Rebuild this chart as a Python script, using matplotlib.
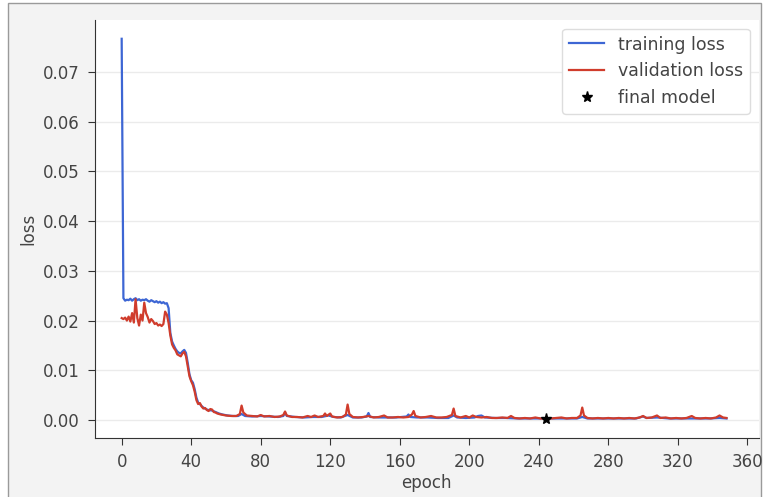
#!/usr/bin/env python3
"""Training / validation loss curves with the selected final model."""
import matplotlib
matplotlib.use("Agg")
import matplotlib.pyplot as plt
from matplotlib.patches import Rectangle

# ============================================================
# DATA
# ============================================================
train_epoch = [0, 1, 2, 3, 4, 5, 6, 7, 8, 9, 10, 11, 12, 13, 14, 15, 16, 17, 18, 19,
               20, 21, 22, 23, 24, 25, 26, 27, 28, 29, 30, 31, 32, 33, 34, 35, 36, 37,
               38, 39, 40, 41, 42, 43, 44, 45, 46, 47, 48, 49, 50, 52, 54, 56, 58, 61,
               64, 67, 69, 71, 75, 80, 85, 90, 93, 94, 95, 100, 105, 110, 115, 119, 122,
               126, 130, 133, 138, 141, 142, 143, 148, 153, 158, 164, 165, 166, 170, 176,
               182, 188, 191, 193, 198, 203, 205, 207, 209, 215, 221, 228, 235, 242, 248,
               255, 262, 265, 268, 275, 282, 290, 296, 300, 302, 308, 315, 322, 330, 338,
               344, 348]
train_loss = [0.0767, 0.0245, 0.0240, 0.0242, 0.0241, 0.0244, 0.0240, 0.0243, 0.0245, 0.0241,
              0.0243, 0.0240, 0.0242, 0.0241, 0.0243, 0.0240, 0.0238, 0.0241, 0.0239, 0.0237,
              0.0239, 0.0236, 0.0238, 0.0235, 0.0237, 0.0234, 0.0235, 0.0225, 0.0175, 0.0158,
              0.0150, 0.0143, 0.0138, 0.0135, 0.0134, 0.0138, 0.0141, 0.0135, 0.0115, 0.0092,
              0.0080, 0.0075, 0.0062, 0.0045, 0.0035, 0.0032, 0.0028, 0.0025, 0.0023, 0.0021,
              0.0020, 0.0019, 0.0016, 0.0013, 0.0011, 0.0009, 0.0008, 0.0008, 0.0012, 0.0008,
              0.0007, 0.0008, 0.0007, 0.0006, 0.0008, 0.0015, 0.0008, 0.0006, 0.0005, 0.0006,
              0.0006, 0.0009, 0.0006, 0.0005, 0.0010, 0.0005, 0.0005, 0.0007, 0.0014, 0.0006,
              0.0005, 0.0005, 0.0005, 0.0007, 0.0011, 0.0006, 0.0005, 0.0005, 0.0004, 0.0004,
              0.0009, 0.0005, 0.0004, 0.0005, 0.0008, 0.0009, 0.0005, 0.0004, 0.0004, 0.0003,
              0.0003, 0.0003, 0.0003, 0.0003, 0.0003, 0.0006, 0.0003, 0.0003, 0.0003, 0.0003,
              0.0003, 0.0007, 0.0004, 0.0005, 0.0003, 0.0003, 0.0003, 0.0003, 0.0004, 0.0003]

val_epoch = [0, 1, 2, 3, 4, 5, 6, 7, 8, 9, 10, 11, 12, 13, 14, 15, 16, 17, 18, 19,
             20, 21, 22, 23, 24, 25, 26, 27, 28, 29, 30, 31, 32, 33, 34, 35, 36, 37,
             38, 39, 40, 41, 42, 43, 44, 45, 46, 47, 48, 49, 50, 51, 52, 53, 54, 55,
             57, 60, 63, 66, 68, 69, 70, 72, 75, 78, 80, 82, 85, 88, 91, 93, 94, 95,
             98, 101, 104, 107, 109, 111, 113, 116, 117, 118, 120, 121, 124, 127, 129,
             130, 131, 133, 136, 139, 142, 145, 148, 151, 153, 156, 159, 162, 165, 167,
             168, 169, 172, 175, 178, 181, 184, 187, 190, 191, 192, 195, 198, 200, 202,
             204, 207, 210, 213, 216, 219, 222, 224, 226, 229, 232, 235, 238, 241, 244,
             247, 250, 253, 256, 259, 262, 264, 265, 266, 268, 271, 274, 277, 280, 283,
             286, 289, 292, 295, 298, 300, 302, 305, 308, 310, 313, 316, 319, 322, 325,
             328, 330, 333, 336, 339, 342, 344, 346, 348]
val_loss = [0.0205, 0.0203, 0.0206, 0.0200, 0.0208, 0.0198, 0.0215, 0.0196, 0.0243, 0.0205,
            0.0190, 0.0212, 0.0200, 0.0236, 0.0215, 0.0207, 0.0196, 0.0203, 0.0199, 0.0193,
            0.0195, 0.0190, 0.0192, 0.0189, 0.0193, 0.0218, 0.0212, 0.0195, 0.0170, 0.0152,
            0.0145, 0.0140, 0.0132, 0.0130, 0.0128, 0.0134, 0.0137, 0.0128, 0.0108, 0.0088,
            0.0078, 0.0070, 0.0057, 0.0040, 0.0032, 0.0034, 0.0027, 0.0023, 0.0024, 0.0020,
            0.0018, 0.0022, 0.0021, 0.0016, 0.0015, 0.0013,
            0.0011, 0.0009, 0.0008, 0.0008, 0.0012, 0.0029, 0.0015, 0.0009, 0.0008, 0.0007,
            0.0010, 0.0007, 0.0008, 0.0006, 0.0007, 0.0010, 0.0017, 0.0009, 0.0006, 0.0006,
            0.0005, 0.0008, 0.0006, 0.0009, 0.0006, 0.0008, 0.0013, 0.0008, 0.0013, 0.0007,
            0.0005, 0.0006, 0.0011, 0.0031, 0.0012, 0.0006, 0.0005, 0.0006, 0.0008, 0.0005,
            0.0006, 0.0009, 0.0005, 0.0005, 0.0006, 0.0005, 0.0006, 0.0011, 0.0018, 0.0008,
            0.0005, 0.0006, 0.0008, 0.0005, 0.0005, 0.0006, 0.0010, 0.0023, 0.0008, 0.0005,
            0.0008, 0.0005, 0.0009, 0.0006, 0.0005, 0.0006, 0.0004, 0.0004, 0.0005, 0.0004,
            0.0008, 0.0004, 0.0003, 0.0004, 0.0003, 0.0005, 0.0003, 0.0002, 0.0003, 0.0004,
            0.0005, 0.0003, 0.0004, 0.0004, 0.0009, 0.0025, 0.0009, 0.0004, 0.0003, 0.0004,
            0.0003, 0.0004, 0.0003, 0.0004, 0.0003, 0.0004, 0.0003, 0.0005, 0.0008, 0.0004,
            0.0005, 0.0009, 0.0004, 0.0005, 0.0003, 0.0004, 0.0003, 0.0004, 0.0008, 0.0004,
            0.0003, 0.0004, 0.0003, 0.0005, 0.0009, 0.0005, 0.0004]

final_epoch = [244]
final_loss = [0.0001]

x_ticks = [0, 40, 80, 120, 160, 200, 240, 280, 320, 360]
y_ticks = [0.00, 0.01, 0.02, 0.03, 0.04, 0.05, 0.06, 0.07]

# ============================================================
# STYLE
# ============================================================
TXT = "#444444"
BLUE = "#3d66d4"
RED = "#d03c2c"
plt.rcParams["font.family"] = "DejaVu Sans"
plt.rcParams["font.size"] = 12

fig = plt.figure(figsize=(7.64, 4.97), dpi=100, facecolor="white")
ax = fig.add_axes([0.124, 0.119, 0.869, 0.841])
ax.set_facecolor("white")

# grey screenshot panel behind the plot
fig.patches.append(Rectangle((8 / 764, -0.05), 753 / 764, 1.0435, transform=fig.transFigure,
                             facecolor="#f3f3f3", edgecolor="#9a9a9a", linewidth=1.0,
                             zorder=-1))

ax.plot(train_epoch, train_loss, color=BLUE, lw=1.6, label="training loss")
ax.plot(val_epoch, val_loss, color=RED, lw=1.6, label="validation loss")
ax.plot(final_epoch, final_loss, "k*", ms=8, label="final model", zorder=5)

ax.set_xticks(x_ticks)
ax.set_yticks(y_ticks)
ax.set_xlim(-15.5, 366.5)
ax.set_ylim(-0.0036, 0.0805)
ax.yaxis.set_major_formatter(matplotlib.ticker.FormatStrFormatter("%.2f"))
ax.grid(axis="y", color="#ebebeb", lw=1)
ax.set_axisbelow(True)

for side in ["top", "right"]:
    ax.spines[side].set_visible(False)
for side in ["left", "bottom"]:
    ax.spines[side].set_color("#333333")
ax.tick_params(colors="#333333", labelcolor=TXT, labelsize=12, length=5, pad=6)

ax.set_xlabel("epoch", color=TXT, fontsize=12, labelpad=2)
ax.set_ylabel("loss", color=TXT, fontsize=12, labelpad=4)

leg = ax.legend(loc="upper right", fontsize=12.5, numpoints=1, labelcolor=TXT,
                framealpha=1, edgecolor="#dddddd", fancybox=True)

fig.savefig("out.png", dpi=100, facecolor=fig.get_facecolor())
